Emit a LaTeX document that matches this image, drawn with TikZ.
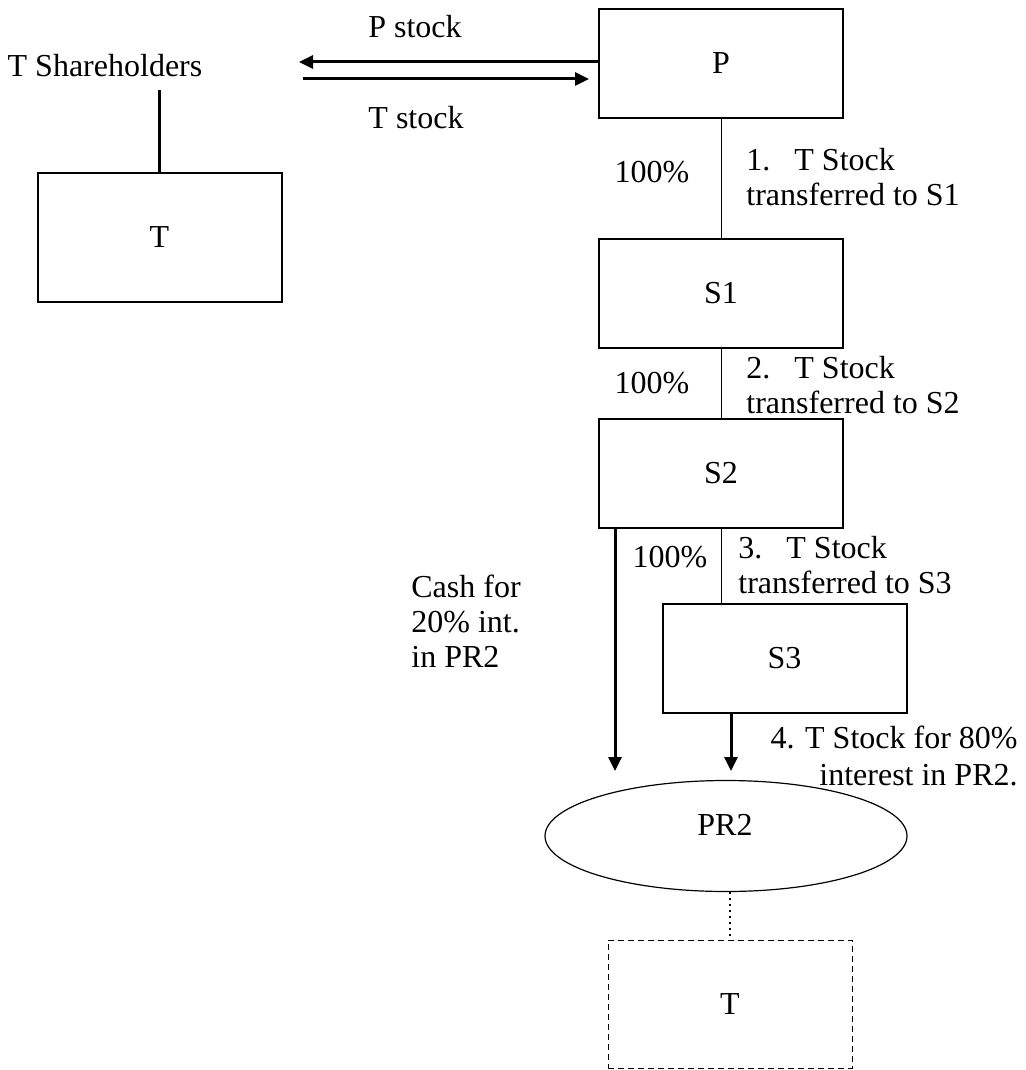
\documentclass[tikz,border=0pt]{standalone}
\usepackage{fontspec}
\setmainfont{Liberation Serif}
\usetikzlibrary{arrows.meta,shapes.geometric}
\begin{document}
\begin{tikzpicture}[x=0.5pt,y=-0.5pt,
  every node/.style={font=\fontsize{16}{17.5}\selectfont, inner sep=0pt},
  box/.style={draw, line width=1pt, minimum width=122pt, minimum height=54.5pt},
  dbox/.style={draw, line width=0.5pt, dash pattern=on 3pt off 2pt, minimum width=122pt, minimum height=64pt},
  ell/.style={draw, ellipse, line width=0.6pt, minimum width=181pt, minimum height=55.5pt},
  thinline/.style={line width=0.5pt},
  arr/.style={line width=1.5pt, -{Triangle[length=7pt,width=6.5pt]}},
  lbl/.style={align=left, anchor=west}]
\useasboundingbox (0,0) rectangle (1025,1070);

% nodes
\node[box] (P) at (721,63.5) {P};
\node[box] (S1) at (721,293.5) {S1};
\node[box] (S2) at (721,473.5) {S2};
\node[box] (S3) at (784.5,658.5) {S3};
\node[box, minimum height=64.5pt] (T1) at (159.5,237.5) {T};
\node (TSh) at (105,66) {T Shareholders};
\node[ell] (PR2) at (726,836) {};
\node (PR2t) at (725,825) {PR2};
\node[dbox] (T2) at (730,1004) {T};

% labels
\node (Pst) at (415,27) {P stock};
\node (Tst) at (416,118) {T stock};
\node (p1) at (652,172) {100\%};
\node (p2) at (652,383) {100\%};
\node (p3) at (670,557) {100\%};
\node[lbl] (l1) at (746,177) {\makebox[24pt][l]{1.}T Stock\\transferred to S1};
\node[lbl] (l2) at (746,385) {\makebox[24pt][l]{2.}T Stock\\transferred to S2};
\node[lbl] (l3) at (738,565) {\makebox[24pt][l]{3.}T Stock\\transferred to S3};
\node[lbl] (cash) at (411,621) {Cash for\\20\% int.\\in PR2};
\node[align=right, anchor=east, font=\fontsize{16}{18.5}\selectfont] (l4) at (1018,756) {4. T Stock for 80\%\\interest in PR2.};

% free ends
\coordinate (aL) at (299,62);
\coordinate (aR) at (303,79);
\coordinate (cashEnd) at (615,771);
\coordinate (s3End) at (731,771);

% connectors
\draw[arr] (P.west |- aL) -- (aL);
\draw[arr, shorten >=4.5pt] (aR) -- (P.west |- aR);
\draw[line width=1.2pt] (T1.north) -- ([yshift=-6pt]TSh.south -| T1.north);
\draw[thinline] (P) -- (S1);
\draw[thinline] (S1) -- (S2);
\draw[thinline] (S2.south) -- (S2.south |- S3.north);
\draw[arr] (S2.south -| cashEnd) -- (cashEnd);
\draw[arr] (S3.south -| s3End) -- (s3End);
\draw[dotted, line width=1pt] (PR2.south -| T2.north) -- (T2.north);
\end{tikzpicture}
\end{document}
